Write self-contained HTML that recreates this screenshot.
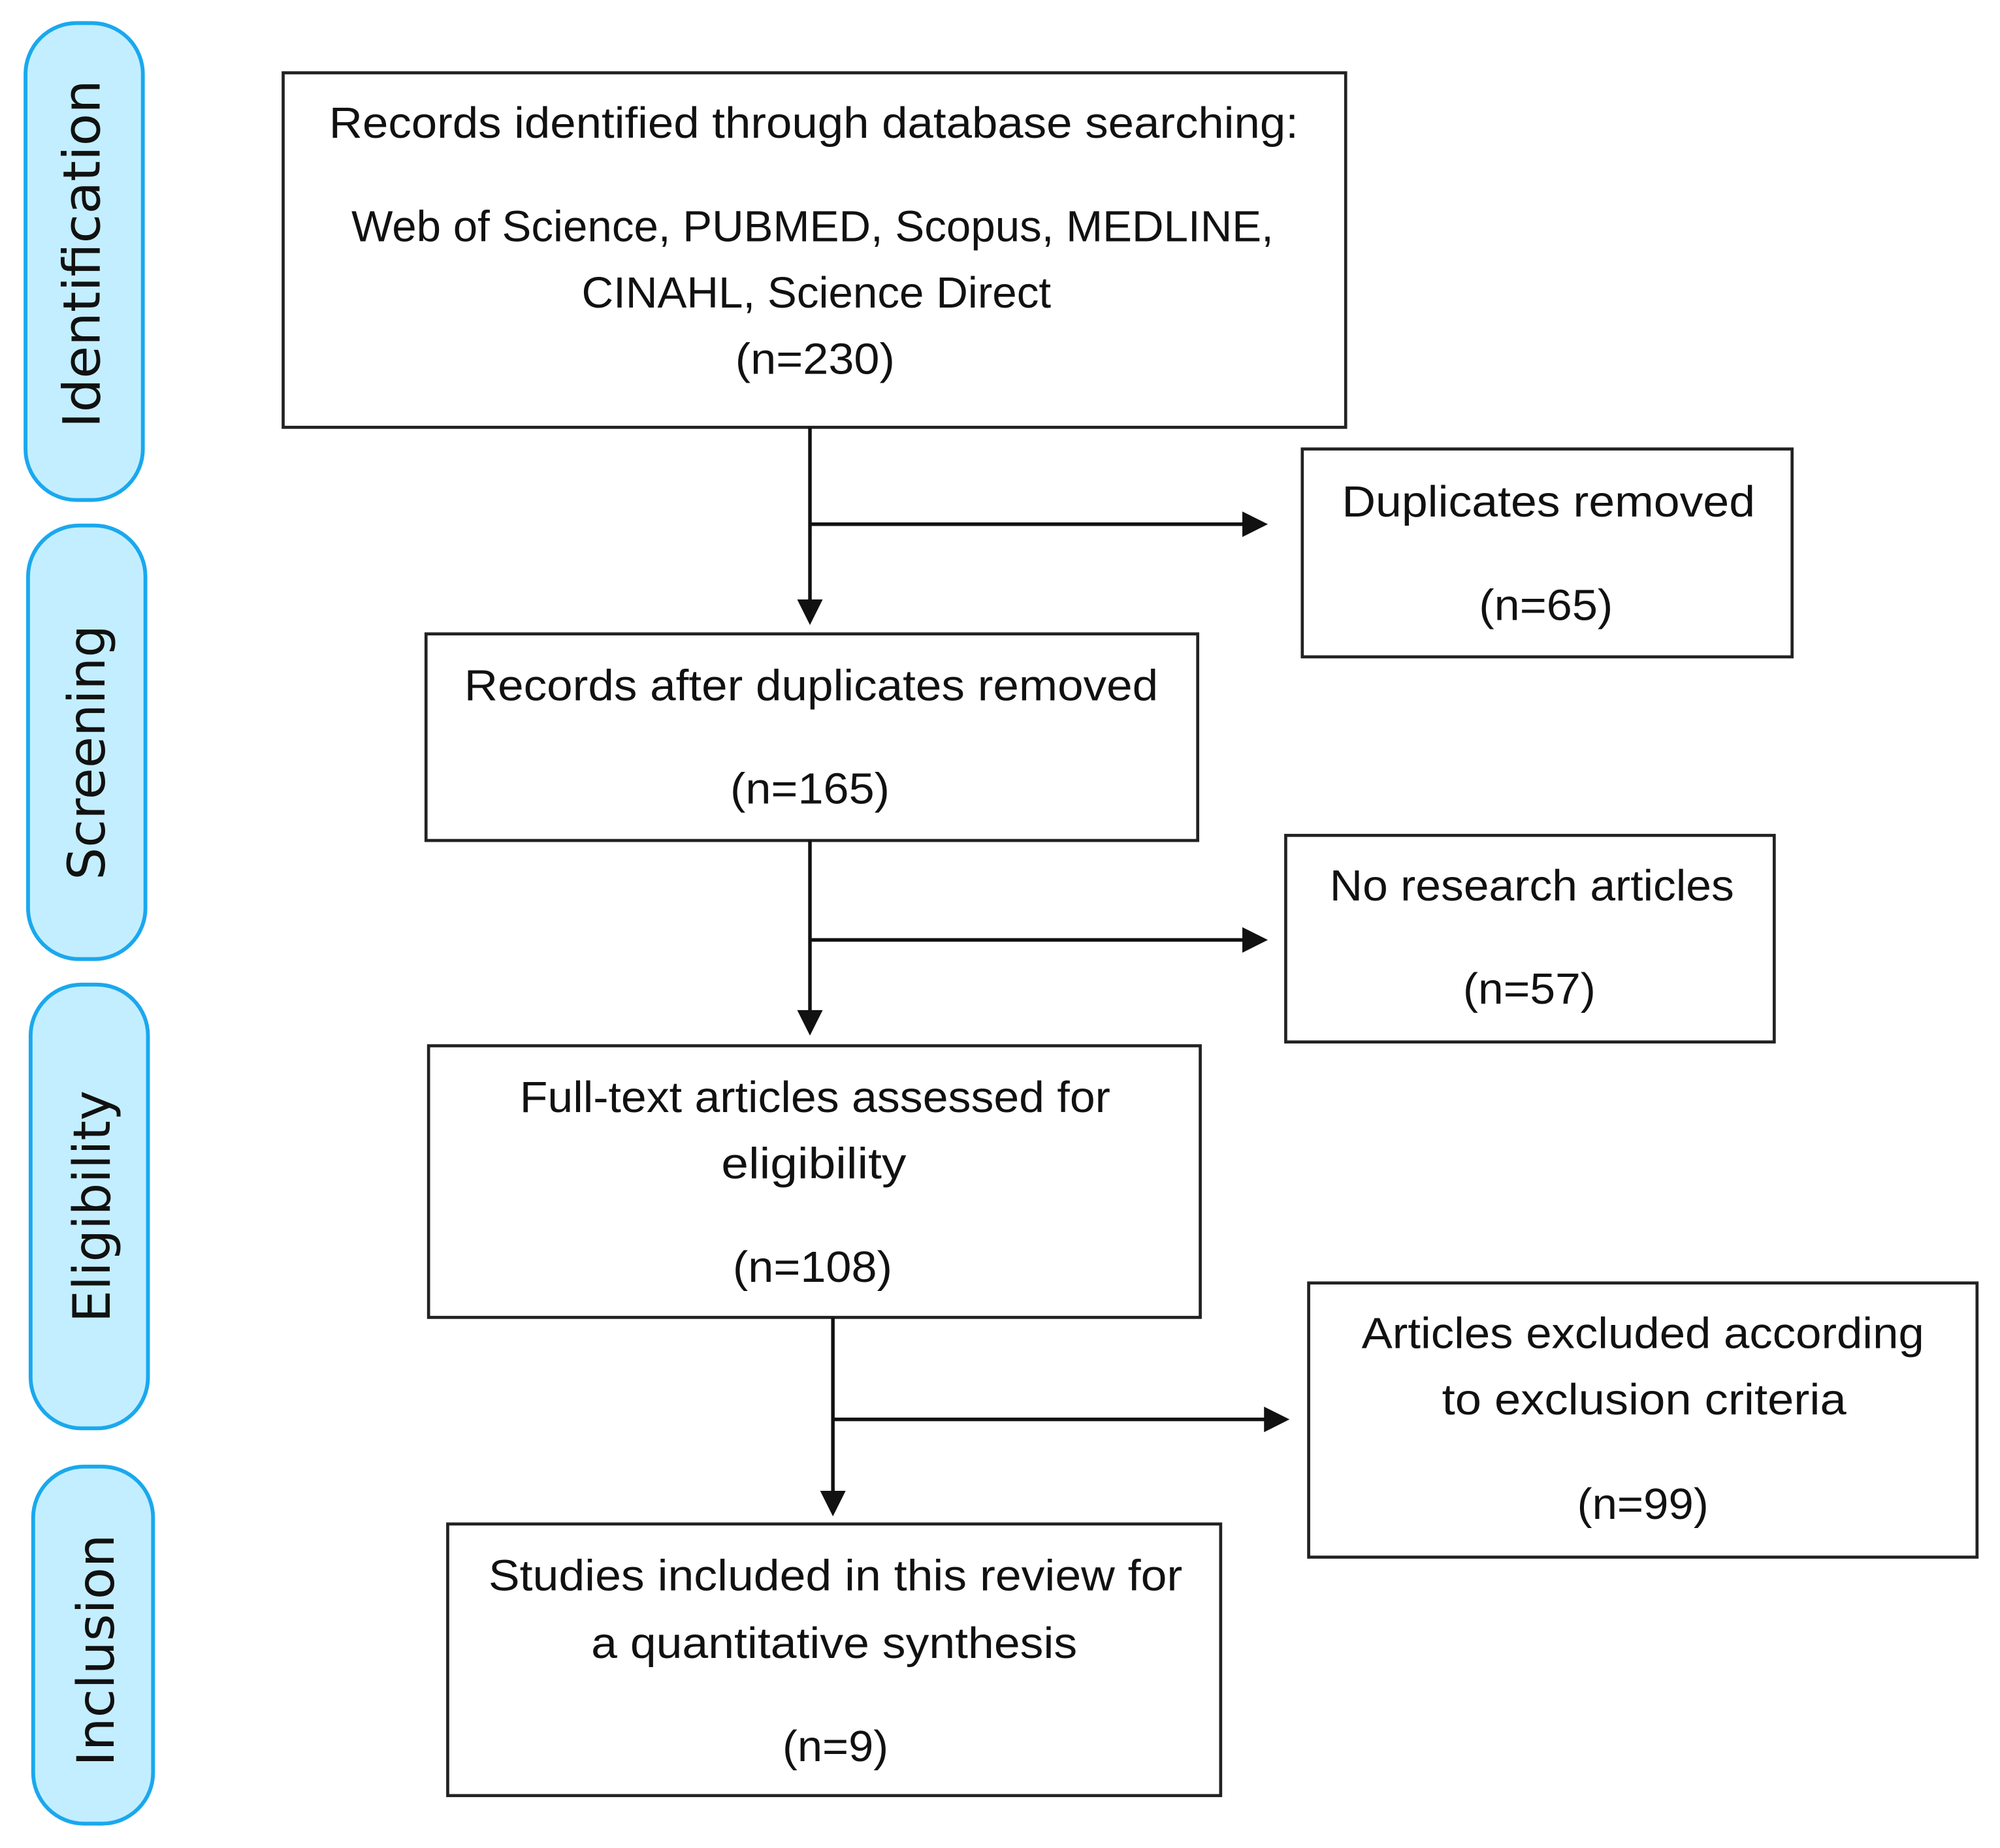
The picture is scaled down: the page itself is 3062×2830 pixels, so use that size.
<!DOCTYPE html>
<html><head><meta charset="utf-8"><style>
html,body{margin:0;padding:0;background:#fff;}
svg{display:block;}
.t{font-family:"Liberation Sans",sans-serif;font-size:34px;fill:#111;text-anchor:middle;}
.s{font-family:"DejaVu Sans","Liberation Sans",sans-serif;font-size:40px;fill:#111;text-anchor:middle;}
.b{fill:#fff;stroke:#222;stroke-width:2.4;}
.p{fill:#c3eeff;stroke:#1aa8ee;stroke-width:3;}
.l{stroke:#111;stroke-width:2.8;fill:none;}
</style></head><body>
<svg width="3062" height="2830" viewBox="0 0 1568 1449" xmlns="http://www.w3.org/2000/svg">
<rect x="20" y="18" width="92" height="374" rx="40" class="p"/>
<rect x="22" y="412" width="92" height="340" rx="40" class="p"/>
<rect x="24" y="772" width="92" height="348" rx="40" class="p"/>
<rect x="26" y="1150" width="94" height="280" rx="40" class="p"/>
<text class="s" transform="translate(78,199) rotate(-90)" textLength="273" lengthAdjust="spacingAndGlyphs">Identification</text>
<text class="s" transform="translate(82,590) rotate(-90)" textLength="200" lengthAdjust="spacingAndGlyphs">Screening</text>
<text class="s" transform="translate(86,946) rotate(-90)" textLength="182" lengthAdjust="spacingAndGlyphs">Eligibility</text>
<text class="s" transform="translate(89,1294) rotate(-90)" textLength="182" lengthAdjust="spacingAndGlyphs">Inclusion</text>

<rect x="222" y="57" width="833" height="278" class="b"/>
<rect x="1021" y="352" width="384" height="163" class="b"/>
<rect x="334" y="497" width="605" height="162" class="b"/>
<rect x="1008" y="655" width="383" height="162" class="b"/>
<rect x="336" y="820" width="605" height="213" class="b"/>
<rect x="1026" y="1006" width="524" height="215" class="b"/>
<rect x="351" y="1195" width="606" height="213" class="b"/>

<path class="l" d="M635 335V474M635 411H978M635 659V796M635 737H978M653 1033V1173M653 1113H995"/>
<path d="M625 470L645 470L635 490Z M625 792L645 792L635 812Z M643 1169L663 1169L653 1189Z M974 401L974 421L994 411Z M974 727L974 747L994 737Z M991 1103L991 1123L1011 1113Z" fill="#111"/>

<g class="t">
<text x="638" y="108" textLength="760" lengthAdjust="spacingAndGlyphs">Records identified through database searching:</text>
<text x="637" y="189" textLength="723" lengthAdjust="spacingAndGlyphs">Web of Science, PUBMED, Scopus, MEDLINE,</text>
<text x="640" y="241" textLength="368" lengthAdjust="spacingAndGlyphs">CINAHL, Science Direct</text>
<text x="639" y="293" textLength="125" lengthAdjust="spacingAndGlyphs">(n=230)</text>
<text x="1214" y="405" textLength="324" lengthAdjust="spacingAndGlyphs">Duplicates removed</text>
<text x="1212" y="486" textLength="105" lengthAdjust="spacingAndGlyphs">(n=65)</text>
<text x="636" y="549" textLength="544" lengthAdjust="spacingAndGlyphs">Records after duplicates removed</text>
<text x="635" y="630" textLength="125" lengthAdjust="spacingAndGlyphs">(n=165)</text>
<text x="1201" y="706" textLength="317" lengthAdjust="spacingAndGlyphs">No research articles</text>
<text x="1199" y="787" textLength="104" lengthAdjust="spacingAndGlyphs">(n=57)</text>
<text x="639" y="872" textLength="463" lengthAdjust="spacingAndGlyphs">Full-text articles assessed for</text>
<text x="638" y="924" textLength="145" lengthAdjust="spacingAndGlyphs">eligibility</text>
<text x="637" y="1005" textLength="125" lengthAdjust="spacingAndGlyphs">(n=108)</text>
<text x="1288" y="1057" textLength="441" lengthAdjust="spacingAndGlyphs">Articles excluded according</text>
<text x="1289" y="1109" textLength="317" lengthAdjust="spacingAndGlyphs">to exclusion criteria</text>
<text x="1288" y="1191" textLength="103" lengthAdjust="spacingAndGlyphs">(n=99)</text>
<text x="655" y="1247" textLength="544" lengthAdjust="spacingAndGlyphs">Studies included in this review for</text>
<text x="654" y="1300" textLength="381" lengthAdjust="spacingAndGlyphs">a quantitative synthesis</text>
<text x="655" y="1381" textLength="83" lengthAdjust="spacingAndGlyphs">(n=9)</text>
</g>
</svg>
</body></html>
